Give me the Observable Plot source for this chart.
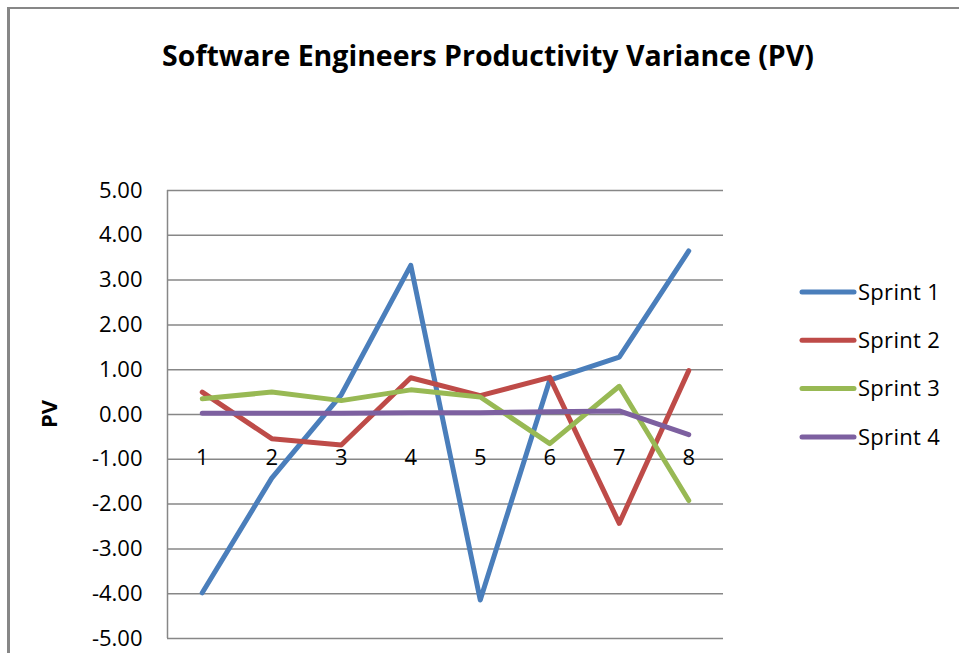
<!DOCTYPE html>
<html><head><meta charset="utf-8">
<script src="https://cdn.jsdelivr.net/npm/d3@7"></script>
<script src="https://cdn.jsdelivr.net/npm/@observablehq/plot@0.6"></script>
<style>
html,body{margin:0;padding:0;background:#fff;}
#wrap{position:relative;width:959px;height:653px;overflow:hidden;}
#border{position:absolute;left:7px;top:7px;right:0;bottom:0;border-left:3px solid #878787;border-top:2px solid #878787;pointer-events:none;}
#wrap svg{position:absolute;left:0;top:0;}
</style></head><body><div id="wrap"><div id="border"></div></div>
<script>
const titleText = "Software Engineers Productivity Variance (PV)";
const yLabel = "PV";
const categories = [1, 2, 3, 4, 5, 6, 7, 8];
const seriesNames = ["Sprint 1", "Sprint 2", "Sprint 3", "Sprint 4"];
const sprint1 = [-3.98, -1.42, 0.44, 3.33, -4.14, 0.77, 1.28, 3.65];
const sprint2 = [0.50, -0.54, -0.68, 0.82, 0.42, 0.83, -2.43, 0.98];
const sprint3 = [0.35, 0.50, 0.31, 0.55, 0.39, -0.65, 0.63, -1.92];
const sprint4 = [0.03, 0.03, 0.03, 0.04, 0.04, 0.06, 0.08, -0.45];
const seriesColors = ["#4A7EBB", "#BE4B48", "#98B954", "#7D60A0"];
const yTicks = [-5, -4, -3, -2, -1, 0, 1, 2, 3, 4, 5];
const yTickLabels = ["-5.00", "-4.00", "-3.00", "-2.00", "-1.00", "0.00", "1.00", "2.00", "3.00", "4.00", "5.00"];
const xTickLabels = ["1", "2", "3", "4", "5", "6", "7", "8"];

const seriesValues = [sprint1, sprint2, sprint3, sprint4];
const rows = seriesNames.flatMap((s, si) => categories.map((c, ci) => ({series: s, x: c, y: seriesValues[si][ci]})));
const xDomain = [categories[0] - 0.5, categories[categories.length - 1] + 0.5];
const FONT = "'Open Sans', sans-serif";
const grid = "#878787";

const chart = Plot.plot({
  width: 959, height: 653,
  marginLeft: 167, marginRight: 236, marginTop: 190, marginBottom: 15,
  style: {fontFamily: FONT, background: "transparent", color: "#000"},
  x: {domain: xDomain, axis: null},
  y: {domain: [yTicks[0], yTicks[yTicks.length - 1]], axis: null},
  color: {domain: seriesNames, range: seriesColors},
  marks: [
    Plot.ruleY(yTicks, {stroke: grid, strokeWidth: 1.5}),
    Plot.ruleX([xDomain[0]], {stroke: grid, strokeWidth: 1.5}),
    Plot.axisY(yTicks, {label: null, tickSize: 0, tickPadding: 25, fontSize: 22, tickFormat: d => yTickLabels[yTicks.indexOf(d)], fill: "#000", style: {letterSpacing: "1px"}}),
    Plot.text(categories, {x: d => d, y: () => 0, text: (d, i) => xTickLabels[i], dy: 43, fontSize: 22, fill: "#000"}),
    Plot.line(rows, {x: "x", y: "y", z: "series", stroke: "series", strokeWidth: 5})
  ]
});
document.getElementById("wrap").appendChild(chart);

const svg = d3.select(chart);
svg.append("text").attr("x", 488).attr("y", 66).attr("text-anchor", "middle")
  .attr("font-family", FONT).attr("font-weight", "bold").attr("font-size", 28.5).attr("fill", "#000").text(titleText);
svg.append("text").attr("transform", "translate(57,414) rotate(-90)").attr("text-anchor", "middle")
  .attr("font-family", FONT).attr("font-weight", "bold").attr("font-size", 22).attr("fill", "#000").text(yLabel);

const leg = svg.append("g");
seriesNames.forEach((s, i) => {
  const y = 292 + i * 48.3;
  leg.append("line").attr("x1", 802).attr("x2", 854).attr("y1", y).attr("y2", y)
    .attr("stroke", seriesColors[i]).attr("stroke-width", 5).attr("stroke-linecap", "round");
  leg.append("text").attr("x", 858).attr("y", y).attr("dy", "0.35em").attr("text-anchor", "start")
    .attr("font-family", FONT).attr("font-size", 22).attr("letter-spacing", "0.3px").attr("fill", "#000").text(s);
});
</script></body></html>
